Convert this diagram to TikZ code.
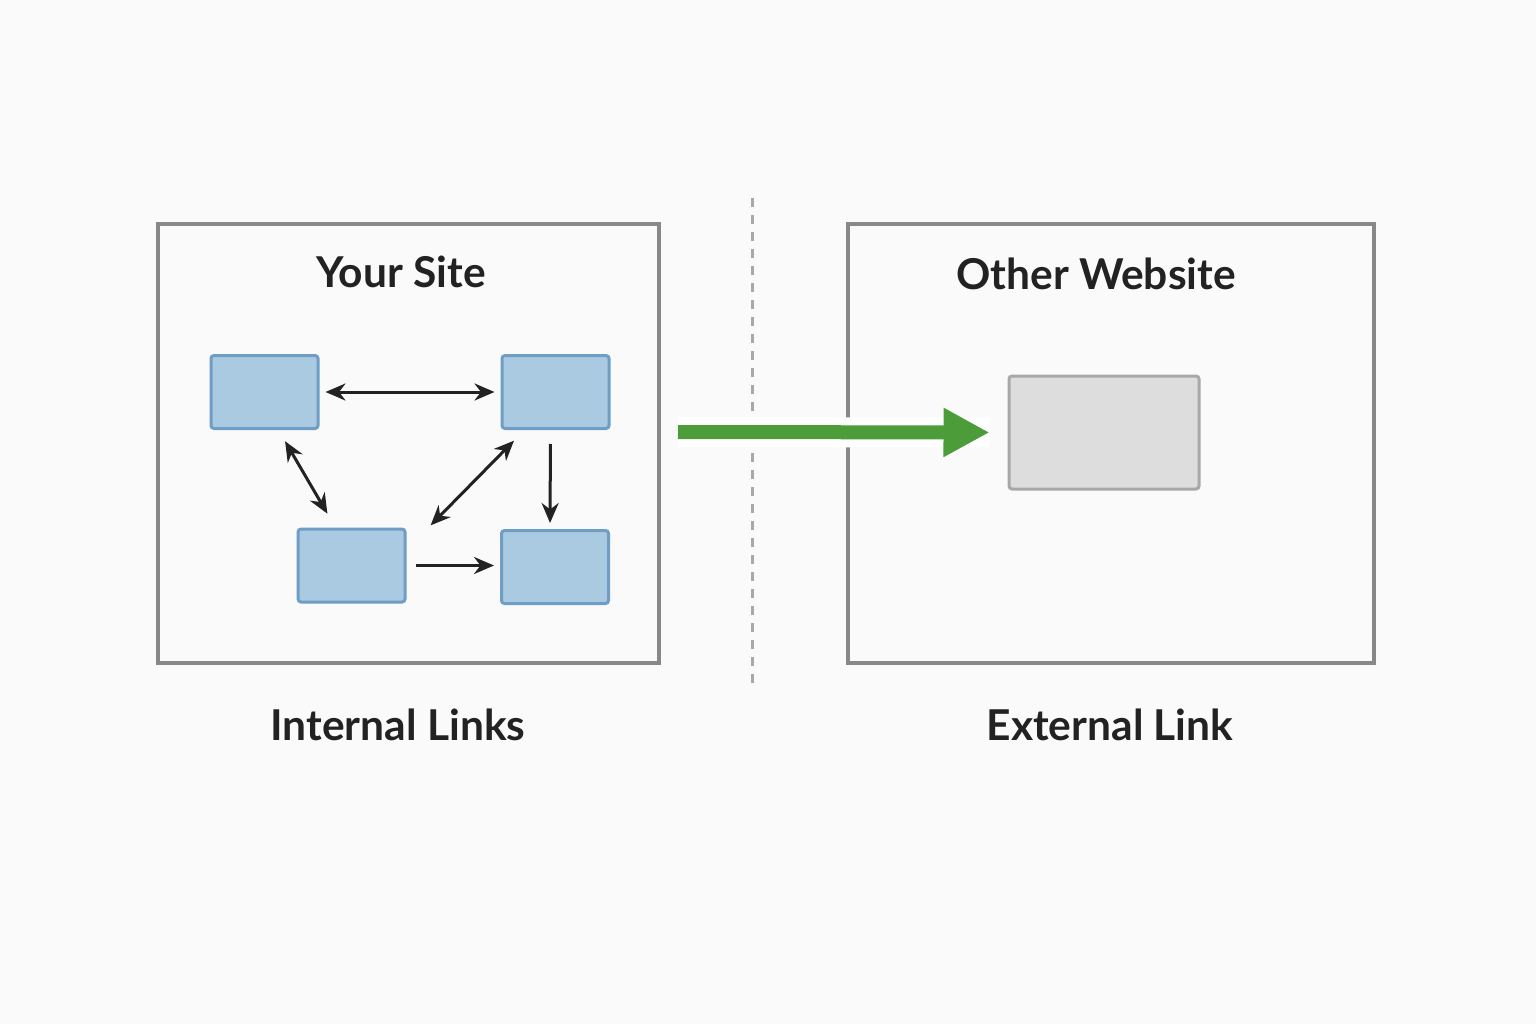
\documentclass[tikz,border=0pt]{standalone}
\usepackage{fontspec}
\setmainfont{Lato}
\usetikzlibrary{arrows.meta}
\definecolor{bfill}{HTML}{AACAE1}
\definecolor{bdraw}{HTML}{6E9EC6}
\definecolor{gfill}{HTML}{DDDDDD}
\definecolor{gdraw}{HTML}{A8A8A8}
\definecolor{frame}{HTML}{888888}
\definecolor{grn}{HTML}{4C9C3A}
\definecolor{ink}{HTML}{222222}
\begin{document}
\begin{tikzpicture}[x=1pt,y=-1pt,
  page/.style={draw=bdraw,fill=bfill,line width=3pt,rounded corners=3pt,minimum width=107pt,minimum height=73pt,inner sep=0},
  frm/.style={draw=frame,line width=3.5pt},
  lnk/.style={draw=ink,line width=3pt,-{Stealth[length=20pt,width=17pt]},shorten >=6pt,shorten <=6pt},
  blnk/.style={lnk,{Stealth[length=20pt,width=17pt]}-{Stealth[length=20pt,width=17pt]}},
  ttl/.style={font=\bfseries\fontsize{42.5}{44}\selectfont,text=ink}]
\fill[white!98!black] (0,0) rectangle (1536,1024);
\useasboundingbox (0,0) rectangle (1536,1024);
\node[frm,minimum width=501pt,minimum height=439pt,inner sep=0] (L) at (408.5,443.5) {};
\node[frm,minimum width=526pt,minimum height=439pt,inner sep=0] (R) at (1111,443.5) {};
\coordinate (dt) at (752,198); \coordinate (db) at (752,690);
\draw[gdraw,line width=3pt,dash pattern=on 9pt off 8pt] (dt) -- (db);
\node[ttl] (t1) at (401,272) {Your Site};
\node[ttl] (t2) at (1096,274) {Other Website};
\node[ttl] (l1) at (398,725) {Internal Links};
\node[ttl] (l2) at (1110,725) {External Link};
\node[page] (A) at (264.5,392) {};
\node[page] (B) at (555.5,392) {};
\node[page] (C) at (351.5,565.5) {};
\node[page] (D) at (555,567) {};
\node[draw=gdraw,fill=gfill,line width=3pt,rounded corners=3pt,minimum width=190pt,minimum height=113pt,inner sep=0] (G) at (1104,432.5) {};
\draw[blnk] (A.east) -- (B.west);
\draw[blnk,shorten >=16pt,shorten <=13pt] ([xshift=14pt]A.south) -- ([xshift=-16pt]C.north);
\draw[blnk,shorten >=3pt,shorten <=15pt] ([xshift=-31pt]B.south) -- ([xshift=22pt]C.north east);
\draw[lnk,shorten <=14pt] ([xshift=-5pt]B.south) -- ([xshift=-5pt]D.north);
\draw[lnk,shorten <=9pt] (C.east) -- (C.east -| D.west);
\coordinate (gs) at (678,432);
\draw[white,line width=30pt] (gs) -- ([xshift=-18pt]G.west);
\draw[grn,line width=14pt,-{Triangle[length=46pt,width=46pt]},shorten >=18pt] (gs) -- (G.west);
\end{tikzpicture}
\end{document}
